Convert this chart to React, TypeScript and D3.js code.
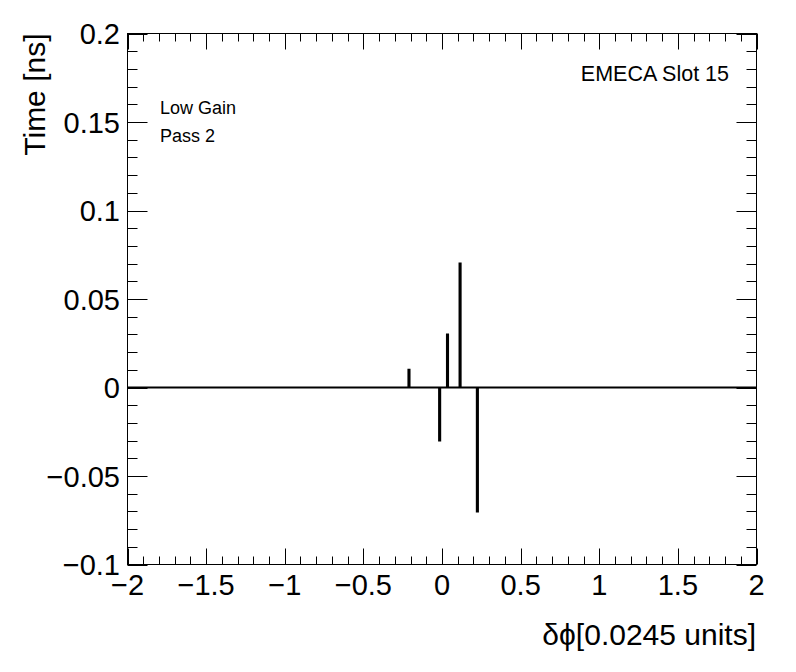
import React from "react";
import * as d3 from "d3";

const binCenters = [-0.21, -0.015, 0.035, 0.115, 0.225];
const binValues = [0.01, -0.03, 0.03, 0.07, -0.07];
const binWidth = 0.007;
const xDomain = [-2, 2];
const yDomain = [-0.1, 0.2];
const xMajorTicks = [-2, -1.5, -1, -0.5, 0, 0.5, 1, 1.5, 2];
const xTickLabels = ["−2", "−1.5", "−1", "−0.5", "0", "0.5", "1", "1.5", "2"];
const yMajorTicks = [-0.1, -0.05, 0, 0.05, 0.1, 0.15, 0.2];
const yTickLabels = ["−0.1", "−0.05", "0", "0.05", "0.1", "0.15", "0.2"];
const xMinorStep = 0.1;
const yMinorStep = 0.01;
const xTitle = "δϕ[0.0245 units]";
const yTitle = "Time [ns]";
const labelTopRight = "EMECA Slot 15";
const labelLines = ["Low Gain", "Pass 2"];

const W = 796;
const H = 672;
const L = 127.5, R = 756.5, T = 33.5, B = 564.5;
const FONT = "'Liberation Sans', Arial, Helvetica, sans-serif";

export default function App() {
  const x = d3.scaleLinear().domain(xDomain).range([L, R]);
  const y = d3.scaleLinear().domain(yDomain).range([B, T]);

  const xMinor = d3.range(xDomain[0], xDomain[1] + 1e-9, xMinorStep);
  const yMinor = d3.range(yDomain[0], yDomain[1] + 1e-9, yMinorStep);
  const xMajLen = 16, xMinLen = 8, yMajLen = 20, yMinLen = 10;

  const pts: [number, number][] = [[xDomain[0], 0]];
  binCenters
    .map((c, i) => ({ c, v: binValues[i] }))
    .sort((a, b) => a.c - b.c)
    .forEach(({ c, v }) => {
      pts.push([c - binWidth / 2, 0], [c - binWidth / 2, v], [c + binWidth / 2, v], [c + binWidth / 2, 0]);
    });
  pts.push([xDomain[1], 0]);
  const line = d3.line<[number, number]>().x((d) => x(d[0])).y((d) => y(d[1]));

  const isMajor = (v: number, step: number) => Math.abs(v / step - Math.round(v / step)) < 1e-6;

  return (
    <svg width={W} height={H} style={{ position: "absolute", left: 0, top: 0, background: "#fff" }} fontFamily={FONT}>
      <rect x={0} y={0} width={W} height={H} fill="#fff" />
      {/* histogram */}
      <path d={line(pts) || ""} fill="none" stroke="#000" strokeWidth={2} strokeLinejoin="miter" />
      {/* frame */}
      <rect x={L} y={T} width={R - L} height={B - T} fill="none" stroke="#000" strokeWidth={1} />
      {/* x ticks */}
      {xMinor.map((v, i) => {
        const len = isMajor(v, 0.5) ? xMajLen : xMinLen;
        const px = Math.round(x(v)) + 0.5;
        return (
          <g key={"xt" + i}>
            <line x1={px} x2={px} y1={B} y2={B - len} stroke="#000" />
            <line x1={px} x2={px} y1={T} y2={T + len} stroke="#000" />
          </g>
        );
      })}
      {/* y ticks */}
      {yMinor.map((v, i) => {
        const len = isMajor(v, 0.05) ? yMajLen : yMinLen;
        const py = Math.round(y(v)) + 0.5;
        return (
          <g key={"yt" + i}>
            <line x1={L} x2={L + len} y1={py} y2={py} stroke="#000" />
            <line x1={R} x2={R - len} y1={py} y2={py} stroke="#000" />
          </g>
        );
      })}
      {/* x tick labels */}
      {xMajorTicks.map((v, i) => (
        <text key={"xl" + i} x={x(v)} y={595} fontSize={29} textAnchor="middle">
          {xTickLabels[i]}
        </text>
      ))}
      {/* y tick labels */}
      {yMajorTicks.map((v, i) => (
        <text key={"yl" + i} x={120} y={y(v) + 10.5} fontSize={29} textAnchor="end">
          {yTickLabels[i]}
        </text>
      ))}
      {/* axis titles */}
      <text x={756} y={645} fontSize={30} textAnchor="end">{xTitle}</text>
      <text transform={`translate(45,${T}) rotate(-90)`} fontSize={30} textAnchor="end">{yTitle}</text>
      {/* labels */}
      <text x={729} y={81} fontSize={21.5} textAnchor="end">{labelTopRight}</text>
      {labelLines.map((t, i) => (
        <text key={"ll" + i} x={160} y={114 + i * 28} fontSize={18}>{t}</text>
      ))}
    </svg>
  );
}
